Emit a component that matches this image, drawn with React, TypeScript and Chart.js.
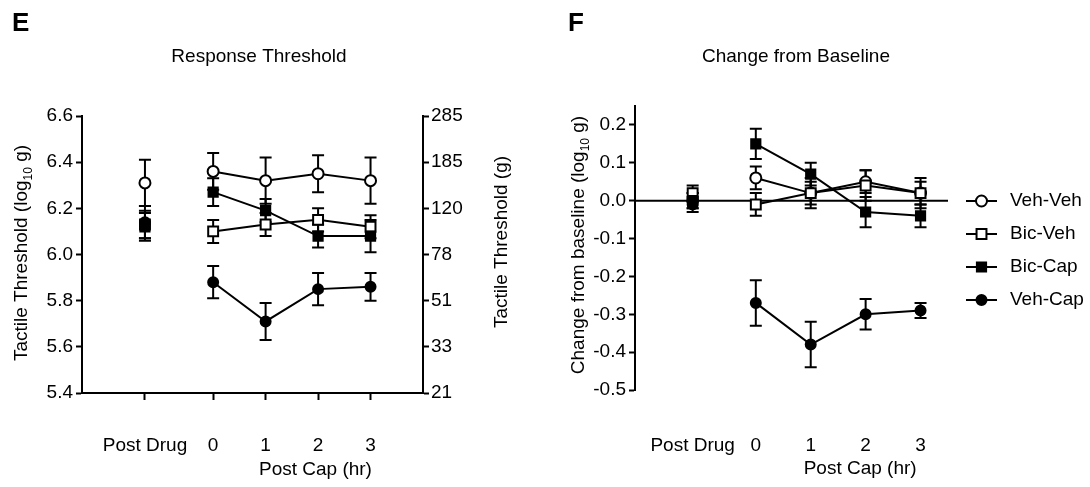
import React, { useEffect, useRef } from "react";
import { Chart, registerables } from "chart.js";
Chart.register(...registerables);

const FONT = "'Liberation Sans', Arial, Helvetica, sans-serif";

// ---- data ----
const xLabels = ["Post Drug", "0", "1", "2", "3"];
const xPosE = [-1.3, 0, 1, 2, 3];
const xPosF = [-1.15, 0, 1, 2, 3];
const seriesNames = ["Veh-Veh", "Bic-Veh", "Bic-Cap", "Veh-Cap"];

// Panel E: Response Threshold (log10 g)
const eVehVeh = [6.31, 6.36, 6.32, 6.35, 6.32];
const eVehVehErr = [0.1, 0.08, 0.1, 0.08, 0.1];
const eBicVeh = [6.13, 6.1, 6.13, 6.15, 6.12];
const eBicVehErr = [0.06, 0.05, 0.05, 0.05, 0.05];
const eBicCap = [6.12, 6.27, 6.19, 6.08, 6.08];
const eBicCapErr = [0.06, 0.06, 0.05, 0.05, 0.07];
const eVehCap = [6.14, 5.88, 5.71, 5.85, 5.86];
const eVehCapErr = [0.07, 0.07, 0.08, 0.07, 0.06];

const eTicks = [5.4, 5.6, 5.8, 6.0, 6.2, 6.4, 6.6];
const eRightLabels = ["21", "33", "51", "78", "120", "185", "285"];

// Panel F: Change from baseline (log10 g)
const fVehVeh = [0.0, 0.06, 0.02, 0.05, 0.02];
const fVehVehErr = [0.02, 0.03, 0.03, 0.03, 0.03];
const fBicVeh = [0.02, -0.01, 0.02, 0.04, 0.02];
const fBicVehErr = [0.02, 0.03, 0.04, 0.04, 0.04];
const fBicCap = [0.0, 0.15, 0.07, -0.03, -0.04];
const fBicCapErr = [0.02, 0.04, 0.03, 0.04, 0.03];
const fVehCap = [-0.01, -0.27, -0.38, -0.3, -0.29];
const fVehCapErr = [0.02, 0.06, 0.06, 0.04, 0.02];

const fTicks = [-0.5, -0.4, -0.3, -0.2, -0.1, 0.0, 0.1, 0.2];

// ---- styles ----
const markerStyles = [
  { pointStyle: "circle", radius: 5.5, fill: "#ffffff", order: 3 },
  { pointStyle: "rect", radius: 7, fill: "#ffffff", order: 2 },
  { pointStyle: "rect", radius: 6.5, fill: "#000000", order: 0 },
  { pointStyle: "circle", radius: 5, fill: "#000000", order: 1 },
];

function makeDatasets(xs: number[], vals: number[][], errs: number[][]) {
  return vals.map((v, i) => ({
    label: seriesNames[i],
    data: v.map((y, j) => ({ x: xs[j], y })),
    errors: errs[i],
    order: markerStyles[i].order,
    showLine: true,
    borderColor: "#000",
    borderWidth: 2,
    backgroundColor: markerStyles[i].fill,
    pointBackgroundColor: markerStyles[i].fill,
    pointBorderColor: "#000",
    pointBorderWidth: 2,
    pointStyle: markerStyles[i].pointStyle,
    pointRadius: markerStyles[i].radius,
    pointHoverRadius: markerStyles[i].radius,
    segment: {
      borderColor: (ctx: any) => (ctx.p0DataIndex === 0 ? "rgba(0,0,0,0)" : "#000"),
    },
    clip: false as any,
  }));
}

const errorBarPlugin = {
  id: "errorBars",
  beforeDatasetsDraw(chart: any) {
    const ctx = chart.ctx;
    const xs = chart.scales.x;
    const ys = chart.scales.y;
    ctx.save();
    ctx.strokeStyle = "#000";
    ctx.lineWidth = 2;
    chart.data.datasets.forEach((ds: any) => {
      const errs = ds.errors;
      if (!errs) return;
      ds.data.forEach((p: any, j: number) => {
        const x = xs.getPixelForValue(p.x);
        const yt = ys.getPixelForValue(p.y + errs[j]);
        const yb = ys.getPixelForValue(p.y - errs[j]);
        ctx.beginPath();
        ctx.moveTo(x, yt);
        ctx.lineTo(x, yb);
        ctx.moveTo(x - 6, yt);
        ctx.lineTo(x + 6, yt);
        ctx.moveTo(x - 6, yb);
        ctx.lineTo(x + 6, yb);
        ctx.stroke();
      });
    });
    ctx.restore();
  },
};

type Part = { t: string; sub?: boolean };

function drawRotated(ctx: CanvasRenderingContext2D, cx: number, cy: number, parts: Part[], size: number) {
  ctx.save();
  ctx.translate(cx, cy);
  ctx.rotate(-Math.PI / 2);
  ctx.fillStyle = "#000";
  ctx.textBaseline = "alphabetic";
  ctx.textAlign = "left";
  const subSize = Math.round(size * 0.65);
  let total = 0;
  const widths = parts.map((p) => {
    ctx.font = `${p.sub ? subSize : size}px ${FONT}`;
    const w = ctx.measureText(p.t).width;
    total += w;
    return w;
  });
  let x = -total / 2;
  const base = size * 0.36;
  parts.forEach((p, i) => {
    ctx.font = `${p.sub ? subSize : size}px ${FONT}`;
    ctx.fillText(p.t, x, p.sub ? base + size * 0.28 : base);
    x += widths[i];
  });
  ctx.restore();
}

function drawText(ctx: CanvasRenderingContext2D, t: string, x: number, y: number, font: string, align: CanvasTextAlign = "center") {
  ctx.save();
  ctx.font = font;
  ctx.fillStyle = "#000";
  ctx.textAlign = align;
  ctx.textBaseline = "middle";
  ctx.fillText(t, x, y);
  ctx.restore();
}

const FS = 19;

function tickFont() {
  return { family: FONT, size: FS };
}

export default function App() {
  const leftRef = useRef<HTMLCanvasElement>(null);
  const rightRef = useRef<HTMLCanvasElement>(null);

  useEffect(() => {
    const textE = {
      id: "textE",
      afterDraw(chart: any) {
        const ctx = chart.ctx;
        drawText(ctx, "E", 12, 24, `bold 26px ${FONT}`, "left");
        drawText(ctx, "Response Threshold", 259, 57, `${FS}px ${FONT}`);
        drawRotated(ctx, 20, 253, [{ t: "Tactile Threshold (log" }, { t: "10", sub: true }, { t: " g)" }], FS);
        drawRotated(ctx, 500, 242, [{ t: "Tactile Threshold (g)" }], FS);
        const xs = chart.scales.x;
        drawText(ctx, "Post Cap (hr)", xs.getPixelForValue(1.95), 470, `${FS}px ${FONT}`);
      },
    };

    const cE = new Chart(leftRef.current as HTMLCanvasElement, {
      type: "scatter",
      data: {
        datasets: makeDatasets(xPosE, [eVehVeh, eBicVeh, eBicCap, eVehCap], [eVehVehErr, eBicVehErr, eBicCapErr, eVehCapErr]) as any,
      },
      options: {
        responsive: false,
        animation: false,
        devicePixelRatio: 1,
        layout: { padding: { top: 116, left: 0, right: 0, bottom: 0 } },
        plugins: { legend: { display: false }, tooltip: { enabled: false } },
        scales: {
          x: {
            type: "linear",
            position: "bottom",
            min: -2.5,
            max: 4,
            afterBuildTicks: (s: any) => {
              s.ticks = xPosE.map((v) => ({ value: v }));
            },
            afterFit: (s: any) => {
              s.height = 94;
            },
            ticks: {
              autoSkip: false,
              maxRotation: 0,
              padding: 34,
              color: "#000",
              font: tickFont(),
              callback: (_v: any, i: number) => xLabels[i],
            },
            grid: { drawOnChartArea: false, drawTicks: true, tickLength: 7, tickWidth: 2, tickColor: "#000" },
            border: { display: true, color: "#000", width: 2 },
          },
          y: {
            type: "linear",
            position: "left",
            min: 5.4,
            max: 6.6,
            afterBuildTicks: (s: any) => {
              s.ticks = eTicks.map((v) => ({ value: v }));
            },
            afterFit: (s: any) => {
              s.width = 82;
            },
            ticks: {
              padding: 3,
              color: "#000",
              font: tickFont(),
              callback: (v: any) => Number(v).toFixed(1),
            },
            grid: { drawOnChartArea: false, drawTicks: true, tickLength: 6, tickWidth: 2, tickColor: "#000" },
            border: { display: true, color: "#000", width: 2 },
          },
          y2: {
            type: "linear",
            position: "right",
            min: 5.4,
            max: 6.6,
            afterBuildTicks: (s: any) => {
              s.ticks = eTicks.map((v) => ({ value: v }));
            },
            afterFit: (s: any) => {
              s.width = 122;
            },
            ticks: {
              padding: 2,
              color: "#000",
              font: tickFont(),
              callback: (_v: any, i: number) => eRightLabels[i],
            },
            grid: { drawOnChartArea: false, drawTicks: true, tickLength: 6, tickWidth: 2, tickColor: "#000" },
            border: { display: true, color: "#000", width: 2 },
          },
        },
      } as any,
      plugins: [errorBarPlugin, textE],
    });

    const textF = {
      id: "textF",
      beforeDatasetsDraw(chart: any) {
        const ctx = chart.ctx;
        const ys = chart.scales.y;
        const a = chart.chartArea;
        const y0 = ys.getPixelForValue(0);
        ctx.save();
        ctx.strokeStyle = "#000";
        ctx.lineWidth = 2;
        ctx.beginPath();
        ctx.moveTo(a.left, y0);
        ctx.lineTo(a.right, y0);
        ctx.stroke();
        ctx.restore();
      },
      afterDraw(chart: any) {
        const ctx = chart.ctx;
        drawText(ctx, "F", 23, 24, `bold 26px ${FONT}`, "left");
        drawText(ctx, "Change from Baseline", 251, 57, `${FS}px ${FONT}`);
        drawRotated(ctx, 32, 245, [{ t: "Change from baseline (log" }, { t: "10", sub: true }, { t: " g)" }], FS);
        const xs = chart.scales.x;
        drawText(ctx, "Post Cap (hr)", xs.getPixelForValue(1.9), 469, `${FS}px ${FONT}`);
        // legend
        chart.data.datasets.forEach((ds: any, i: number) => {
          const y = 201 + i * 33;
          const lx0 = 421, lx1 = 452, mx = 436.5;
          ctx.save();
          ctx.strokeStyle = "#000";
          ctx.lineWidth = 2;
          ctx.beginPath();
          ctx.moveTo(lx0, y);
          ctx.lineTo(lx1, y);
          ctx.stroke();
          const st = markerStyles[i];
          ctx.fillStyle = st.fill;
          ctx.beginPath();
          if (st.pointStyle === "circle") {
            ctx.arc(mx, y, st.radius, 0, Math.PI * 2);
          } else {
            const h = st.radius * Math.SQRT1_2;
            ctx.rect(mx - h, y - h, 2 * h, 2 * h);
          }
          ctx.fill();
          ctx.stroke();
          ctx.restore();
          drawText(ctx, ds.label, 465, y, `${FS}px ${FONT}`, "left");
        });
      },
    };

    const cF = new Chart(rightRef.current as HTMLCanvasElement, {
      type: "scatter",
      data: {
        datasets: makeDatasets(xPosF, [fVehVeh, fBicVeh, fBicCap, fVehCap], [fVehVehErr, fBicVehErr, fBicCapErr, fVehCapErr]) as any,
      },
      options: {
        responsive: false,
        animation: false,
        devicePixelRatio: 1,
        layout: { padding: { top: 106, left: 0, right: 142, bottom: 0 } },
        plugins: { legend: { display: false }, tooltip: { enabled: false } },
        scales: {
          x: {
            type: "linear",
            position: "bottom",
            min: -2.2,
            max: 3.5,
            afterBuildTicks: (s: any) => {
              s.ticks = xPosF.map((v) => ({ value: v }));
            },
            afterFit: (s: any) => {
              s.height = 97;
            },
            ticks: {
              autoSkip: false,
              maxRotation: 0,
              padding: 44,
              color: "#000",
              font: tickFont(),
              callback: (_v: any, i: number) => xLabels[i],
            },
            grid: { display: false, drawTicks: false },
            border: { display: false },
          },
          y: {
            type: "linear",
            position: "left",
            min: -0.5,
            max: 0.25,
            afterBuildTicks: (s: any) => {
              s.ticks = fTicks.map((v) => ({ value: v }));
            },
            afterFit: (s: any) => {
              s.width = 90;
            },
            ticks: {
              padding: 3,
              color: "#000",
              font: tickFont(),
              callback: (v: any) => Number(v).toFixed(1),
            },
            grid: { drawOnChartArea: false, drawTicks: true, tickLength: 6, tickWidth: 2, tickColor: "#000" },
            border: { display: true, color: "#000", width: 2 },
          },
        },
      } as any,
      plugins: [errorBarPlugin, textF],
    });

    return () => {
      cE.destroy();
      cF.destroy();
    };
  }, []);

  return (
    <div style={{ position: "absolute", left: 0, top: 0, width: 1090, height: 487, background: "#fff" }}>
      <canvas ref={leftRef} width={545} height={487} style={{ position: "absolute", left: 0, top: 0, width: 545, height: 487 }} />
      <canvas ref={rightRef} width={545} height={487} style={{ position: "absolute", left: 545, top: 0, width: 545, height: 487 }} />
    </div>
  );
}
